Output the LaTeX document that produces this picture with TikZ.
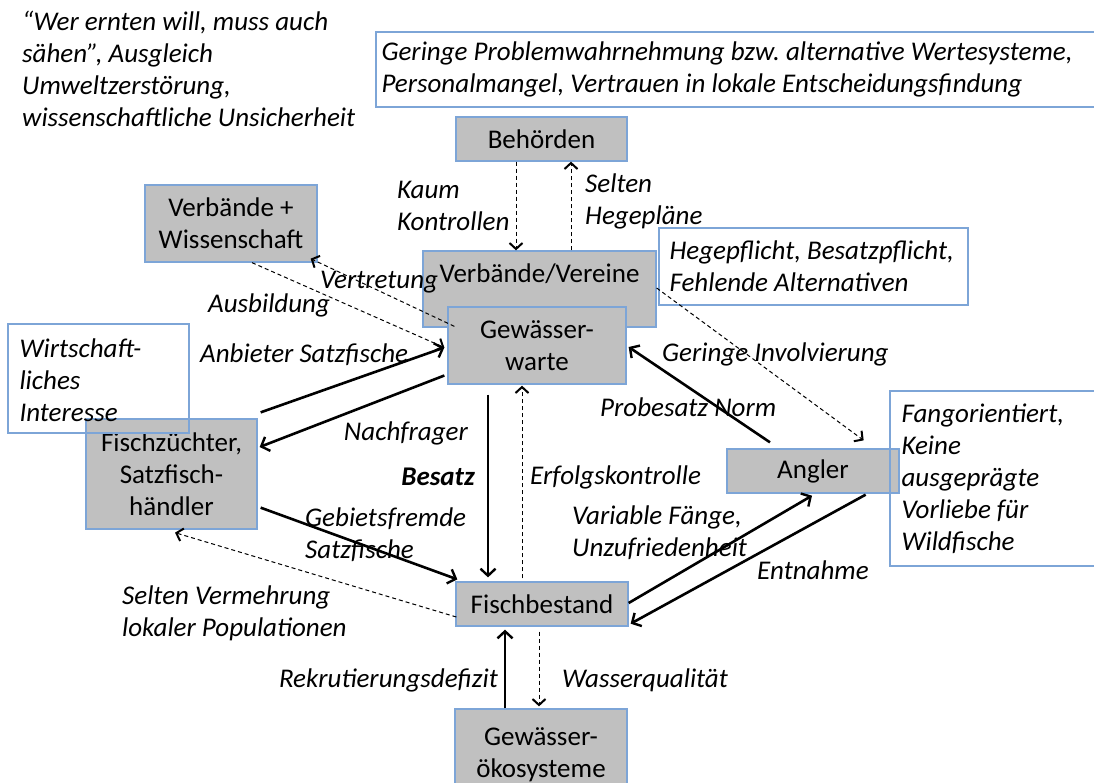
\documentclass[tikz,border=0pt]{standalone}
\usepackage{fontspec}
\setmainfont{Carlito}
\usetikzlibrary{arrows.meta}
\definecolor{boxgray}{RGB}{192,192,192}
\definecolor{boxblue}{RGB}{125,165,215}
\frenchspacing
\begin{document}
\begin{tikzpicture}[x=1pt,y=-1pt,
  every node/.style={font=\fontsize{27}{32}\selectfont},
  actor/.style={draw=boxblue, fill=boxgray, line width=1.3pt, inner sep=0pt, align=center},
  note/.style={draw=boxblue, line width=1.3pt, inner sep=0pt},
  lbl/.style={font=\fontsize{27}{32}\selectfont\itshape, inner sep=0pt, align=left},
  strong/.style={line width=2.6pt, -{Straight Barb[length=7pt,width=15pt,line width=2.4pt]}},
  weak/.style={line width=1pt, dash pattern=on 4pt off 3pt, -{Straight Barb[length=6pt,width=13pt,line width=2pt]}},
]
\useasboundingbox (0,0) rectangle (1094,782);
\clip (0,0) rectangle (1094,782);
\fill[white] (0,0) rectangle (1094,782);

% actor boxes
\node[actor, minimum width=171pt, minimum height=44pt] (beh) at (541.5,139) {Behörden};
\node[actor, minimum width=172pt, minimum height=77pt] (vw) at (231,223.5) {Verbände +\\Wissenschaft};
\node[actor, minimum width=233pt, minimum height=76pt, text height=19pt, text depth=32pt] (vv) at (539.5,289) {Verbände/Vereine};
\node[actor, minimum width=178pt, minimum height=77pt] (gw) at (537,345.5) {Gewässer-\\warte};
\node[actor, minimum width=171pt, minimum height=110pt] (fz) at (171.5,474) {Fischzüchter,\\Satzfisch-\\händler};
\node[actor, minimum width=172pt, minimum height=44pt] (an) at (813,471) {Angler};
\node[actor, minimum width=172pt, minimum height=44pt] (fb) at (542,604) {Fischbestand};
\node[actor, minimum width=172pt, minimum height=91pt] (go) at (541,754.5) {Gewässer-\\ökosysteme};

% note boxes (frames) and their texts
\node[note, minimum width=734pt, minimum height=75pt] (probl) at (743,69.5) {};
\node[lbl, anchor=west] (probltext) at ([xshift=6pt]probl.west)
  {Geringe Problemwahrnehmung bzw. alternative Wertesysteme,\\Personalmangel, Vertrauen in lokale Entscheidungsfindung};
\node[note, minimum width=309pt, minimum height=77pt] (hege) at (813.5,266.5) {};
\node[lbl, anchor=west] (hegetext) at ([xshift=11pt]hege.west)
  {Hegepflicht, Besatzpflicht,\\Fehlende Alternativen};
\node[note, minimum width=181pt, minimum height=109pt] (wirt) at (98.5,378.5) {};
\node[lbl, anchor=west] (wirttext) at ([shift={(12,2)}]wirt.west)
  {Wirtschaft-\\liches\\Interesse};
\node[note, minimum width=220pt, minimum height=175pt] (fang) at (1000,478.5) {};
\node[lbl, anchor=west] (fangtext) at ([xshift=12pt]fang.west)
  {Fangorientiert,\\Keine\\ausgeprägte\\Vorliebe für\\Wildfische};
\node[lbl, anchor=west] (quote) at (22,69)
  {“Wer ernten will, muss auch\\sähen”, Ausgleich\\Umweltzerstörung,\\wissenschaftliche Unsicherheit};

% connectors
\draw[weak] ([xshift=-25.5pt]beh.south) -- ([xshift=-23.5pt]vv.north);
\draw[weak] ([xshift=31.5pt]vv.north) -- ([xshift=29.5pt]beh.south);
\draw[weak] ([shift={(7,20)}]gw.north west) -- ([shift={(-7,-4)}]vw.south east);
\draw[weak] ([xshift=21pt]vw.south) -- ([shift={(-3,2)}]gw.west);
\draw[strong] ([shift={(3,-6)}]fz.north east) -- ([shift={(-3,2)}]gw.west);
\draw[strong] ([shift={(-3,30)}]gw.west) -- ([shift={(2,-27)}]fz.east);
\draw[strong] ([shift={(-49,10)}]gw.south) -- ([shift={(-54,-4)}]fb.north);
\draw[weak] ([shift={(-20,-3)}]fb.north) -- ([shift={(-15,1)}]gw.south);
\draw[weak] ([shift={(0,-1)}]vv.east) -- ([shift={(-36,-8)}]an.north east);
\draw[strong] ([shift={(-43,-6)}]an.north) -- ([shift={(2,1.5)}]gw.east);
\draw[strong] ([shift={(3,-22)}]fz.south east) -- ([shift={(2,-2)}]fb.north west);
\draw[weak] ([shift={(1,13)}]fb.west) -- ([shift={(3.5,3)}]fz.south);
\draw[strong] ([shift={(0,-1)}]fb.east) -- ([shift={(-1,2)}]an.south);
\draw[strong] ([shift={(-34,1)}]an.south east) -- ([shift={(2,-3)}]fb.south east);
\draw[strong] ([xshift=-36pt]go.north) -- ([shift={(-37,3)}]fb.south);
\draw[weak] ([shift={(-3,5)}]fb.south) -- ([shift={(-2,-2)}]go.north);

% labels
\node[lbl, anchor=west] (lkaum) at (397,206) {Kaum\\Kontrollen};
\node[lbl, anchor=west] (lselt) at (585,201) {Selten\\Hegepläne};
\node[lbl, anchor=west] (lvert) at (320,282) {Vertretung};
\node[lbl, anchor=west] (lausb) at (208,305) {Ausbildung};
\node[lbl, anchor=west] (lanb) at (200,355) {Anbieter Satzfische};
\node[lbl, anchor=west] (linv) at (662,354) {Geringe Involvierung};
\node[lbl, anchor=west] (lprob) at (600,407) {Probesatz Norm};
\node[lbl, anchor=east] (lnach) at (468,433) {Nachfrager};
\node[lbl, anchor=east, font=\fontsize{27}{32}\selectfont\bfseries\itshape] (lbes) at (475,477) {Besatz};
\node[lbl, anchor=west] (lerf) at (530,477) {Erfolgskontrolle};
\node[lbl, anchor=west] (lgeb) at (305,535) {Gebietsfremde\\Satzfische};
\node[lbl, anchor=west] (lvar) at (572,533) {Variable Fänge,\\Unzufriedenheit};
\node[lbl, anchor=west] (lent) at (757,570) {Entnahme};
\node[lbl, anchor=west] (lsel) at (122,613) {Selten Vermehrung\\lokaler Populationen};
\node[lbl, anchor=east] (lrek) at (498,680) {Rekrutierungsdefizit};
\node[lbl, anchor=west] (lwas) at (562,680) {Wasserqualität};
\end{tikzpicture}
\end{document}
